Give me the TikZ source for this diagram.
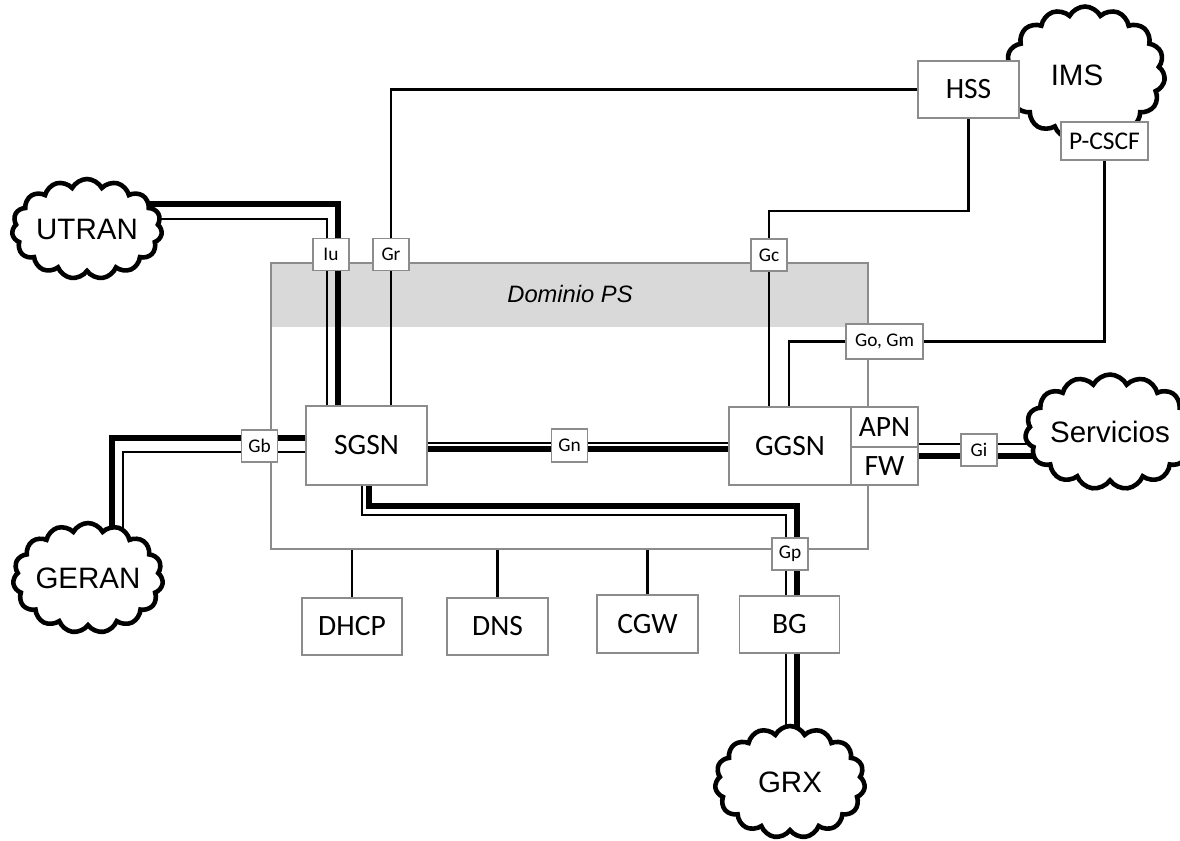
\documentclass[tikz,border=0pt]{standalone}
\usepackage{fontspec}
\setmainfont{Carlito}
\newfontfamily\arialfont{Liberation Sans}
\usetikzlibrary{shapes.symbols}
\pgfdeclarelayer{back}
\pgfdeclarelayer{wires}
\pgfsetlayers{back,wires,main}
\definecolor{boxgray}{HTML}{8C8C8C}
\definecolor{bandgray}{HTML}{D9D9D9}

\begin{document}
\begin{tikzpicture}[x=0.02cm,y=-0.02cm,
  elem/.style={draw=boxgray,fill=white,line width=0.8pt,inner sep=0pt,font=\fontsize{16.8}{18}\selectfont},
  iface/.style={draw=boxgray,fill=white,line width=0.8pt,inner sep=0pt,minimum width=0.72cm,minimum height=0.64cm,font=\fontsize{11}{13}\selectfont},
  net/.style={cloud,cloud puffs=15,cloud puff arc=125,cloud ignores aspect,draw,fill=white,line width=2.6pt,inner sep=0pt,font=\arialfont\fontsize{16.8}{18}\selectfont},
  wire/.style={line width=1.3pt},
  fatwire/.style={line width=2.9pt},
  slimwire/.style={line width=1.1pt}]

\useasboundingbox (0,0) rectangle (1180,840);

\begin{pgfonlayer}{back}
\fill[bandgray] (271,263) rectangle (868,327);
\node[draw=boxgray,line width=0.8pt,inner sep=0pt,minimum width=11.94cm,minimum height=5.72cm] (dominio) at (569.5,406) {};
\node[font=\arialfont\itshape\fontsize{13.5}{16}\selectfont] (dominiolabel) at (570,294) {Dominio PS};
\end{pgfonlayer}

\node[net,minimum width=3.0cm,minimum height=2.0cm] (utran) at (87,229) {UTRAN};
\node[net,minimum width=3.0cm,minimum height=2.2cm] (geran) at (88,578) {GERAN};
\node[net,minimum width=3.2cm,minimum height=2.66cm] (ims) at (1085,73) {};
\node (imslabel) at (1077,75) {\arialfont\fontsize{16.8}{18}\selectfont IMS};
\node[net,minimum width=2.9cm,minimum height=2.3cm] (servicios) at (1110,432) {Servicios};
\node[net,minimum width=3.0cm,minimum height=2.24cm] (grx) at (790,782) {GRX};

\node[elem,minimum width=2.42cm,minimum height=1.58cm] (sgsn) at (366.5,445.5) {SGSN};
\node[elem,minimum width=2.44cm,minimum height=1.56cm] (ggsn) at (790,446) {GGSN};
\node[elem,minimum width=1.34cm,minimum height=0.80cm] (apn) at (884.5,427) {APN};
\node[elem,minimum width=1.34cm,minimum height=0.76cm] (fw) at (884.5,466) {FW};
\node[elem,minimum width=2.02cm,minimum height=1.14cm] (hss) at (968.5,89.5) {HSS};
\node[elem,minimum width=1.74cm,minimum height=0.76cm,font=\fontsize{14.5}{16}\selectfont] (pcscf) at (1104.5,141) {P-CSCF};
\node[elem,minimum width=2.0cm,minimum height=1.14cm] (dhcp) at (352,626.5) {DHCP};
\node[elem,minimum width=2.02cm,minimum height=1.14cm] (dns) at (497.5,626.5) {DNS};
\node[elem,minimum width=2.02cm,minimum height=1.16cm] (cgw) at (647.5,624) {CGW};
\node[elem,minimum width=2.0cm,minimum height=1.14cm] (bg) at (789.5,624.5) {BG};

\node[iface] (iu) at (331,254.5) {Iu};
\node[iface] (gr) at (391,254.5) {Gr};
\node[iface] (gc) at (769,255) {Gc};
\node[iface,minimum width=1.54cm,minimum height=0.70cm] (gogm) at (884.5,341.5) {Go, Gm};
\node[iface] (gb) at (259.5,446) {Gb};
\node[iface,minimum height=0.66cm] (gn) at (569.5,445.5) {Gn};
\node[iface] (gi) at (979,450) {Gi};
\node[iface] (gp) at (790,554) {Gp};

\begin{pgfonlayer}{wires}
\draw[wire] (sgsn.north -| gr.center) |- (hss.west);
\draw[wire] (hss.south) -- ++(0,92) -| (ggsn.north -| gc.center);
\draw[wire] (pcscf.south) |- (gogm.east);
\draw[wire] (gogm.west) -| (ggsn.north -| 789,0);
\draw[fatwire] (utran.center |- 0,204) -| (sgsn.north -| 338,0);
\draw[slimwire] (utran.center |- 0,219) -| (sgsn.north -| 327,0);
\draw[fatwire] (geran.center -| 112,0) |- (sgsn.west |- 0,438);
\draw[slimwire] (geran.center -| 123,0) |- (sgsn.west |- 0,452);
\draw[slimwire] (sgsn.east |- 0,443) -- (ggsn.west |- 0,443);
\draw[fatwire] (sgsn.east |- 0,449) -- (ggsn.west |- 0,449);
\draw[slimwire] (fw.east |- 0,444) -- (servicios.center |- 0,444);
\draw[fatwire] (fw.east |- 0,456) -- (servicios.center |- 0,456);
\draw[fatwire] (sgsn.south -| 369,0) |- (797,506) -- (grx.center -| 797,0);
\draw[slimwire] (sgsn.south -| 362,0) |- (786,515) -- (grx.center -| 786,0);
\draw[wire] (dhcp.north) -- (dhcp.north |- dominio.south);
\draw[wire] (dns.north) -- (dns.north |- dominio.south);
\draw[wire] (cgw.north) -- (cgw.north |- dominio.south);
\end{pgfonlayer}

\end{tikzpicture}
\end{document}
